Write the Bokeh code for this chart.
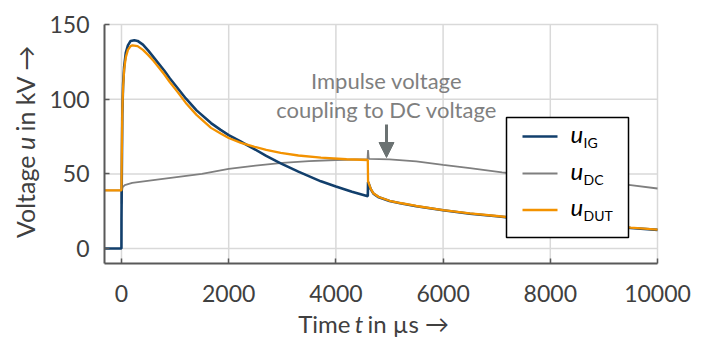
from bokeh.plotting import figure
from bokeh.models import Range1d, FixedTicker, Label, Arrow, NormalHead
from bokeh.embed import file_html
from bokeh.resources import INLINE
from bokeh.core.properties import value

# ---- measured voltages (time in µs, voltage in kV) ----
t_ig = [-317, -1, 0, 5, 15, 30, 50, 80, 120, 170, 240, 300, 400, 500, 600, 700, 800, 900,
        1045, 1200, 1400, 1670, 1850, 2000, 2230, 2470, 2700, 2970, 3300, 3720, 4000, 4300, 4595,
        4600, 4620, 4650, 4700, 4800, 5000, 5200, 5500, 6000, 6500, 7000, 7500, 8000,
        8500, 9000, 9500, 10000]
u_ig = [0, 0, 20, 45, 90, 110, 122, 131, 136, 139, 139.5, 139, 136.5, 132.5, 128, 123.5, 119, 114,
        107.5, 100.5, 92.5, 84, 79.5, 76, 71.5, 66.8, 62, 57, 51.5, 45, 41.5, 38, 35,
        44.5, 42.8, 39.8, 36.8, 34.3, 31.8, 30.3, 28.3, 25.6, 23.3, 21.6, 19.8, 18.3,
        16.8, 15.3, 13.8, 12.5]

t_dut = [-317, 0, 5, 15, 30, 50, 80, 120, 170, 205, 300, 400, 500, 600, 700, 800, 900,
         1045, 1200, 1400, 1670, 1850, 2000, 2230, 2470, 2700, 2970, 3300, 3720, 4200, 4595,
         4600, 4620, 4650, 4700, 4800, 5000, 5200, 5500, 6000, 6500, 7000, 7500, 8000,
         8500, 9000, 9500, 10000]
u_dut = [39, 39, 60, 92, 108, 120, 128, 133, 135.5, 136.1, 135.5, 133, 129.5, 125.5, 121, 116.5, 111.5,
         104.9, 97.5, 89.5, 80.8, 77, 74, 70.8, 68.3, 66, 64, 62.3, 60.9, 59.8, 59.3,
         45, 43, 40, 37, 34.5, 32, 30.5, 28.5, 25.8, 23.5, 21.8, 20, 18.5,
         17, 15.5, 14, 12.7]

t_dc = [-317, 0, 3, 8, 20, 60, 200, 700, 1500, 2000, 2500, 3000, 3500, 4000, 4590,
        4600, 4610, 4620, 5000, 5500, 6000, 6500, 7100, 7600, 8000, 9000, 9500, 10000]
u_dc = [39, 39, 30, 38, 41, 42.5, 44, 46.3, 50, 53.3, 55.5, 57.3, 58.5, 59.3, 59.8,
        66, 61, 60, 59.7, 58.3, 56, 53.8, 51, 49, 47.8, 44.5, 42.4, 40.2]

x_ticks = [0, 2000, 4000, 6000, 8000, 10000]
y_ticks = [0, 50, 100, 150]
series_subscripts = ["IG", "DC", "DUT"]
series_colors = ["#123f6c", "#7f7f7f", "#f39200"]

# ---- layout: the frame fills the canvas, axes sit at fixed data positions ----
W, H = 708, 337
FL, FR, FT, FB = 104, 657, 24, 263          # plotting area edges in canvas pixels
X0, X1 = -317, 10000
Y0, Y1 = -10, 150
KX = (X1 - X0) / (FR - FL)
KY = (Y1 - Y0) / (FB - FT)
XS, XE = X0 - FL * KX, X1 + (W - FR) * KX
YS, YE = Y0 - (H - FB) * KY, Y1 + FT * KY
FONT = "Lato"
TEXT = "#404040"


def dx(px):
    return XS + px * KX


def dy(py):
    return YE - py * KY


p = figure(width=W, height=H, output_backend="svg", toolbar_location=None,
           x_range=Range1d(XS, XE), y_range=Range1d(YS, YE), min_border=0)
p.outline_line_color = None
p.background_fill_color = "white"
p.border_fill_color = "white"
p.grid.visible = False

p.xaxis.fixed_location = Y0
p.xaxis.bounds = (X0, X1)
p.yaxis.fixed_location = X0
p.yaxis.bounds = (Y0, Y1)
for ax, ticks, standoff in ((p.xaxis, x_ticks, 21), (p.yaxis, y_ticks, 15)):
    ax.ticker = FixedTicker(ticks=ticks)
    ax.axis_line_color = "#595959"
    ax.axis_line_width = 2
    ax.major_tick_line_color = "#595959"
    ax.major_tick_line_width = 1.5
    ax.major_tick_in = 5
    ax.major_tick_out = 0
    ax.minor_tick_line_color = None
    ax.major_label_text_font = FONT
    ax.major_label_text_font_size = "23px"
    ax.major_label_text_color = TEXT
    ax.major_label_standoff = standoff

# grid lines, limited to the plotting area
p.segment(x0=x_ticks, x1=x_ticks, y0=[Y0] * len(x_ticks), y1=[Y1] * len(x_ticks),
          line_color="#d9d9d9", line_width=1.5)
p.segment(x0=[X0] * len(y_ticks), x1=[X1] * len(y_ticks), y0=y_ticks, y1=y_ticks,
          line_color="#d9d9d9", line_width=1.5)

# ---- curves ----
p.line(t_dc, u_dc, line_color=series_colors[1], line_width=1.8)
p.line(t_ig, u_ig, line_color=series_colors[0], line_width=2.6)
p.line(t_dut, u_dut, line_color=series_colors[2], line_width=2.3)

# ---- annotation, centred over its arrow ----
ANN = "#7f7f7f"
AX = 386
p.add_layout(Label(x=dx(AX), y=dy(80), text="Impulse voltage", text_font=FONT,
                   text_font_size="22px", text_color=ANN, text_align="center",
                   text_baseline="middle"))
p.add_layout(Label(x=dx(AX), y=dy(109), text="coupling to DC voltage", text_font=FONT,
                   text_font_size="22px", text_color=ANN, text_align="center",
                   text_baseline="middle"))
ac = "#6b7272"
p.add_layout(Arrow(end=NormalHead(size=15, fill_color=ac, line_color=ac),
                   x_start=dx(AX), y_start=dy(124), x_end=dx(AX), y_end=dy(157),
                   line_color=ac, line_width=3))

# ---- axis titles (mixed upright / italic) ----
TX = "24px"
xb = dy(323)
p.add_layout(Label(x=dx(350), y=xb, text="Time", text_align="right", text_baseline="middle",
                   text_font=FONT, text_font_size=TX, text_color=TEXT))
p.add_layout(Label(x=dx(358.5), y=xb, text="t", text_align="center", text_baseline="middle",
                   text_font=FONT, text_font_style="italic", text_font_size=TX, text_color=TEXT))
p.add_layout(Label(x=dx(367), y=xb, text="in µs →", text_align="left", text_baseline="middle",
                   text_font=FONT, text_font_size=TX, text_color=TEXT))

TY = "25px"
yb = dx(24)
p.add_layout(Label(x=yb, y=dy(155), text="Voltage", text_align="right", text_baseline="middle",
                   angle=90, angle_units="deg", text_font=FONT, text_font_size=TY, text_color=TEXT))
p.add_layout(Label(x=yb, y=dy(143), text="u", text_align="center", text_baseline="middle",
                   angle=90, angle_units="deg", text_font=FONT, text_font_style="italic",
                   text_font_size=TY, text_color=TEXT))
p.add_layout(Label(x=yb, y=dy(131), text="in kV →", text_align="left", text_baseline="middle",
                   angle=90, angle_units="deg", text_font=FONT, text_font_size=TY, text_color=TEXT))

# ---- legend (drawn on top of the curves) ----
LL, LR, LT, LB = 506, 628, 117, 237
p.quad(left=dx(LL), right=dx(LR), top=dy(LT), bottom=dy(LB), fill_color="white",
       line_color="black", line_width=1.5, level="overlay")
rows = [136, 173, 209.5]
p.segment(x0=[dx(522)] * 3, x1=[dx(557)] * 3, y0=[dy(r) for r in rows], y1=[dy(r) for r in rows],
          line_color=series_colors, line_width=[2.6, 2.2, 2.6], level="overlay")
p.text(x=[dx(570)] * 3, y=[dy(r - 3.5) for r in rows], text=["u"] * 3,
       text_font=value(FONT), text_font_style="italic", text_font_size="24px",
       text_color="black", text_baseline="middle", level="overlay")
p.text(x=[dx(583)] * 3, y=[dy(r + 5.5) for r in rows], text=series_subscripts,
       text_font=value(FONT), text_font_size="14px",
       text_color="black", text_baseline="middle", level="overlay")

open("out.html", "w").write(file_html(p, INLINE))
